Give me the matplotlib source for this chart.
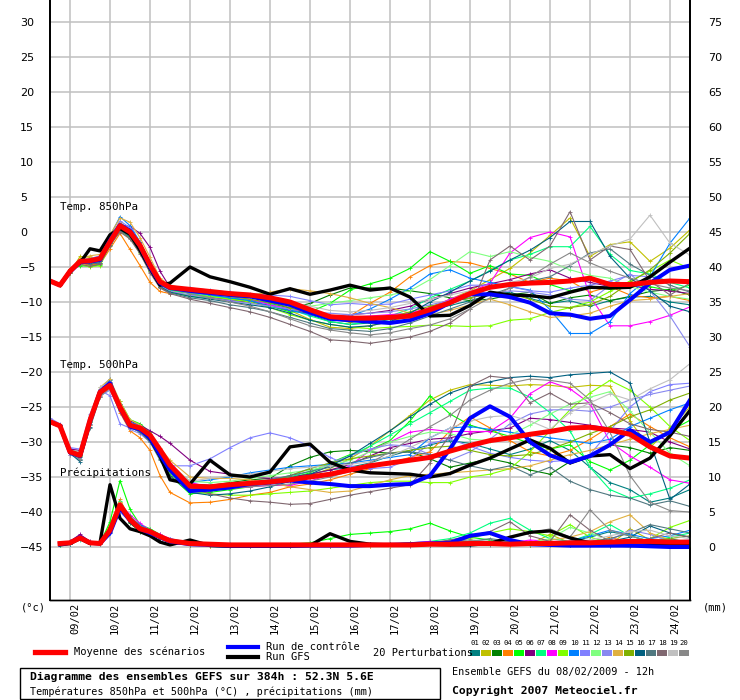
import numpy as np
import matplotlib
matplotlib.use("Agg")
import matplotlib.pyplot as plt
from matplotlib.transforms import ScaledTranslation
from matplotlib.patches import Rectangle
from matplotlib.lines import Line2D

# forecast hours (6h steps first three days, then 12h)
hours = [0, 6, 12, 18, 24, 30, 36, 42, 48, 54, 60, 66, 72,
         84, 96, 108, 120, 132, 144, 156, 168, 180, 192, 204, 216, 228,
         240, 252, 264, 276, 288, 300, 312, 324, 336, 348, 360, 372, 384]
hours_precip = hours[1:]

day_labels = ["09/02", "10/02", "11/02", "12/02", "13/02", "14/02", "15/02", "16/02",
              "17/02", "18/02", "19/02", "20/02", "21/02", "22/02", "23/02", "24/02"]
day_hours = [12, 36, 60, 84, 108, 132, 156, 180, 204, 228, 252, 276, 300, 324, 348, 372]

left_ticks = [-45, -40, -35, -30, -25, -20, -15, -10, -5, 0, 5, 10, 15, 20, 25, 30]
right_ticks = [0, 5, 10, 15, 20, 25, 30, 35, 40, 45, 50, 55, 60, 65, 70, 75]

pert_colors = ["#008080", "#c0c000", "#008000", "#ff8000", "#00ff00", "#800080", "#00ff80",
               "#ff00ff", "#80ff00", "#0080ff", "#8080ff", "#80ff80", "#8888f0", "#e0b040",
               "#80b000", "#006080", "#507880", "#806870", "#c0c0c0", "#888888"]

# ---- Temp 850 hPa ----
t850_mean = [-7.0, -7.6, -5.6, -4.2, -4.1, -3.8, -1.4, 0.9, 0.0, -1.9, -4.7, -7.1, -7.9,
             -8.2, -8.5, -8.8, -9.0, -9.4, -10.0, -11.1, -12.1, -12.3, -12.3, -12.2, -12.0, -11.1,
             -10.1, -8.8, -7.9, -7.5, -7.3, -7.2, -7.0, -6.6, -7.5, -7.5, -7.2, -7.0, -7.1]
t850_ctrl = [-7.0, -7.6, -5.7, -4.3, -4.2, -4.0, -1.2, 1.0, 0.2, -2.0, -5.0, -7.3, -8.0,
             -8.4, -8.7, -9.0, -9.2, -9.8, -10.4, -11.5, -12.4, -12.6, -12.8, -13.0, -12.6, -11.6,
             -10.1, -8.9, -8.9, -9.3, -10.1, -11.6, -11.8, -12.4, -12.0, -9.7, -7.3, -5.4, -4.8]
t850_gfs = [-7.0, -7.6, -5.5, -4.4, -2.4, -2.7, -0.4, 0.5, -0.3, -2.6, -5.2, -7.6, -7.3,
            -5.0, -6.4, -7.1, -7.9, -8.9, -8.1, -8.9, -8.3, -7.6, -8.3, -8.0, -9.3, -12.0,
            -11.9, -10.5, -8.6, -9.0, -9.1, -9.4, -8.6, -7.9, -8.0, -7.9, -6.4, -4.3, -2.3]
t850_p01 = [-7.0, -7.6, -5.4, -4.0, -4.3, -4.1, -1.0, 1.2, 0.3, -1.5, -4.5, -7.4, -8.2, -8.6, -9.0, -9.5, -9.8, -10.2, -10.9, -11.8, -12.8, -13.2, -13.0, -12.5, -12.2, -11.0, -10.5, -9.8, -9.0, -8.6, -9.5, -10.2, -9.8, -10.6, -9.8, -9.3, -9.2, -10.0, -10.4]
t850_p02 = [-7.0, -7.6, -5.8, -3.5, -3.6, -3.9, -0.8, 1.4, 0.2, -2.2, -5.0, -7.4, -8.4, -8.6, -9.0, -9.6, -10.0, -10.6, -11.2, -12.5, -13.6, -13.8, -13.4, -12.8, -12.0, -10.8, -9.6, -8.4, -6.8, -5.2, -3.0, -0.5, 2.0, -3.5, -1.8, -1.4, -4.2, -2.3, 0.3]
t850_p03 = [-7.0, -7.6, -5.5, -4.4, -4.6, -4.4, -1.8, 0.4, -0.4, -2.5, -5.2, -7.3, -8.0, -8.4, -8.6, -8.8, -9.3, -10.0, -10.9, -10.2, -9.0, -8.0, -8.0, -8.0, -8.4, -8.8, -9.4, -9.8, -9.6, -9.0, -8.6, -10.2, -9.4, -9.0, -9.8, -9.2, -8.5, -8.2, -9.0]
t850_p04 = [-7.0, -7.6, -5.9, -4.5, -4.7, -4.6, -2.4, -0.2, -2.5, -4.8, -7.2, -8.5, -8.8, -8.6, -8.8, -9.0, -9.2, -9.8, -10.6, -11.6, -12.5, -12.0, -10.2, -8.6, -6.4, -4.8, -4.2, -4.4, -5.2, -6.0, -7.2, -6.6, -7.0, -8.6, -7.8, -9.0, -9.4, -9.2, -9.8]
t850_p05 = [-7.0, -7.6, -5.3, -4.8, -4.9, -4.7, -1.6, 0.3, -0.8, -2.8, -5.6, -7.8, -8.6, -9.2, -9.4, -9.6, -10.0, -10.6, -11.4, -11.4, -10.2, -8.3, -7.4, -6.6, -5.2, -2.8, -4.2, -5.9, -4.8, -6.0, -6.2, -7.5, -8.4, -7.8, -8.2, -7.6, -7.8, -8.4, -7.6]
t850_p06 = [-7.0, -7.6, -5.6, -4.1, -4.0, -3.6, -1.0, 1.0, 0.8, -0.2, -2.2, -5.6, -7.9, -8.8, -9.3, -9.8, -10.0, -10.5, -11.2, -11.6, -12.0, -11.8, -11.6, -11.2, -10.6, -9.6, -8.8, -8.0, -7.4, -6.8, -6.0, -5.4, -6.6, -7.2, -7.8, -7.6, -8.2, -8.4, -8.8]
t850_p07 = [-7.0, -7.6, -5.7, -4.3, -4.4, -4.0, -1.5, 0.5, -0.6, -2.6, -5.4, -7.6, -8.3, -8.8, -9.2, -9.4, -9.7, -10.3, -11.0, -12.0, -12.8, -13.2, -12.8, -12.0, -11.0, -9.4, -8.2, -7.0, -5.5, -4.0, -3.2, -2.1, -2.1, 0.8, -3.2, -5.5, -6.0, -7.2, -8.0]
t850_p08 = [-7.0, -7.6, -5.5, -4.2, -4.3, -4.0, -1.2, 0.8, -0.1, -2.0, -4.8, -7.0, -7.8, -8.4, -8.8, -9.2, -9.6, -10.4, -11.0, -11.5, -12.0, -12.2, -12.0, -11.8, -11.6, -10.8, -9.6, -8.6, -7.3, -3.0, -0.8, 0.0, -0.7, -9.2, -13.4, -13.4, -12.8, -11.9, -10.7]
t850_p09 = [-7.0, -7.6, -5.8, -4.6, -5.0, -4.8, -1.9, 0.2, -0.9, -3.0, -5.6, -7.8, -8.7, -9.0, -9.2, -9.6, -10.0, -10.8, -11.8, -12.6, -13.2, -13.6, -13.8, -13.6, -13.5, -13.3, -13.4, -13.5, -13.4, -12.6, -12.4, -11.5, -10.8, -10.0, -8.5, -7.0, -5.6, -4.0, -5.2]
t850_p10 = [-7.0, -7.6, -5.6, -4.1, -4.0, -3.5, -0.6, 2.2, 0.9, -1.4, -4.3, -7.0, -7.9, -8.6, -9.0, -9.4, -9.8, -10.6, -11.2, -11.8, -12.3, -12.0, -11.0, -9.6, -8.0, -6.0, -5.4, -6.6, -7.2, -7.8, -8.3, -11.1, -14.5, -14.5, -12.8, -8.8, -6.4, -1.6, 2.0]
t850_p11 = [-7.0, -7.6, -5.4, -4.0, -3.8, -3.4, -0.8, 1.6, 0.6, -1.6, -4.4, -7.0, -7.8, -8.0, -8.3, -8.6, -8.8, -9.0, -9.2, -9.8, -10.4, -10.2, -10.4, -10.3, -9.6, -9.0, -8.4, -7.6, -7.6, -7.8, -8.4, -8.6, -8.0, -7.6, -7.0, -6.2, -6.4, -7.0, -7.4]
t850_p12 = [-7.0, -7.6, -5.5, -4.3, -4.5, -4.2, -1.3, 0.9, 0.0, -2.0, -4.9, -7.2, -8.1, -8.4, -8.7, -9.0, -9.3, -9.8, -10.2, -10.6, -10.2, -9.8, -9.4, -9.0, -8.4, -6.8, -4.8, -2.8, -3.5, -2.8, -3.6, -4.2, -5.4, -6.2, -6.6, -7.8, -8.6, -9.2, -9.6]
t850_p13 = [-7.0, -7.6, -5.6, -4.4, -4.2, -3.9, -1.6, 0.6, -0.4, -2.4, -5.2, -7.6, -8.5, -9.0, -9.4, -9.8, -10.2, -10.6, -11.0, -11.4, -11.6, -11.8, -11.6, -11.4, -11.0, -10.4, -9.8, -9.4, -8.8, -8.4, -8.6, -9.0, -9.6, -9.8, -7.6, -6.0, -8.4, -12.0, -16.4]
t850_p14 = [-7.0, -7.6, -5.7, -3.8, -3.4, -3.2, -0.4, 2.0, 1.4, -0.8, -3.6, -6.6, -7.6, -8.2, -8.5, -8.8, -9.0, -8.6, -8.1, -8.4, -8.8, -9.4, -10.2, -10.8, -11.6, -11.8, -11.2, -10.4, -9.6, -10.4, -11.4, -12.2, -12.0, -11.6, -10.6, -9.8, -9.6, -9.2, -8.8]
t850_p15 = [-7.0, -7.6, -5.6, -4.0, -4.1, -3.9, -1.4, 0.6, -0.3, -2.2, -5.0, -7.4, -8.2, -8.5, -8.8, -9.2, -9.6, -10.1, -10.8, -11.6, -12.4, -12.9, -12.6, -12.2, -11.4, -10.6, -10.0, -9.4, -8.8, -8.8, -9.6, -10.6, -10.8, -10.4, -9.2, -7.2, -5.4, -3.0, -0.2]
t850_p16 = [-7.0, -7.6, -5.6, -4.3, -4.4, -4.2, -1.6, 0.3, -0.6, -2.6, -5.4, -7.8, -8.6, -9.2, -9.6, -10.0, -10.4, -10.8, -11.6, -12.6, -13.2, -13.6, -13.4, -12.8, -11.6, -10.0, -8.6, -7.0, -5.6, -4.0, -2.6, -0.8, 1.5, 1.5, -3.5, -6.6, -8.4, -10.6, -11.4]
t850_p17 = [-7.0, -7.6, -5.7, -4.4, -4.6, -4.4, -2.0, 0.2, -0.8, -2.9, -5.7, -7.9, -8.7, -9.4, -9.8, -10.4, -10.8, -11.4, -12.2, -13.0, -13.8, -14.0, -14.2, -13.8, -13.0, -12.0, -11.0, -10.0, -9.0, -8.0, -7.0, -6.4, -4.8, -3.0, -2.4, -4.6, -6.2, -7.6, -8.6]
t850_p18 = [-7.0, -7.6, -5.8, -4.6, -4.9, -4.6, -1.8, 0.0, -1.0, -3.1, -5.8, -8.0, -8.8, -9.6, -10.2, -10.8, -11.4, -12.2, -13.2, -14.2, -15.4, -15.6, -15.9, -15.5, -15.0, -14.2, -13.0, -11.0, -4.0, -2.0, -4.0, -2.0, 2.9, -4.0, -2.0, -2.5, -7.0, -9.0, -7.3]
t850_p19 = [-7.0, -7.6, -5.4, -4.1, -4.0, -3.6, -1.1, 1.2, 0.4, -1.6, -4.4, -7.0, -8.0, -8.3, -8.5, -8.8, -9.2, -9.6, -10.0, -10.6, -11.2, -11.4, -11.2, -10.8, -10.2, -9.6, -9.0, -8.4, -7.8, -7.2, -6.6, -5.2, -4.6, -3.2, -2.0, -1.0, 2.4, -1.6, -3.3]
t850_p20 = [-7.0, -7.6, -5.6, -4.2, -4.2, -4.0, -1.4, 1.0, 0.2, -1.8, -4.6, -7.2, -8.1, -8.8, -9.4, -10.0, -10.6, -11.4, -12.4, -13.4, -14.0, -14.4, -14.7, -14.4, -13.8, -13.3, -12.4, -11.0, -9.4, -8.0, -6.4, -4.6, -3.0, -4.4, -5.6, -6.6, -7.4, -8.0, -8.4]
t850_members = [t850_p01, t850_p02, t850_p03, t850_p04, t850_p05, t850_p06, t850_p07, t850_p08, t850_p09, t850_p10,
                t850_p11, t850_p12, t850_p13, t850_p14, t850_p15, t850_p16, t850_p17, t850_p18, t850_p19, t850_p20]

# ---- Temp 500 hPa ----
t500_mean = [-27.1, -27.7, -31.4, -31.9, -26.9, -22.9, -21.9, -25.0, -27.6, -28.0, -29.0, -31.1, -33.3,
             -36.3, -36.4, -36.1, -35.9, -35.7, -35.4, -35.0, -34.6, -34.0, -33.4, -33.0, -32.6, -32.2,
             -31.3, -30.5, -29.8, -29.4, -28.9, -28.5, -28.0, -27.9, -28.3, -28.9, -30.7, -32.0, -32.3]
t500_ctrl = [-27.1, -27.7, -31.5, -32.0, -27.0, -22.8, -21.6, -25.2, -27.8, -28.2, -29.4, -31.8, -34.0,
             -37.0, -36.8, -36.5, -36.0, -35.8, -35.5, -35.8, -36.0, -36.3, -36.3, -36.1, -36.0, -34.8,
             -31.0, -26.6, -24.9, -26.4, -30.0, -31.9, -32.9, -32.0, -30.4, -28.3, -30.0, -28.6, -24.0]
t500_gfs = [-27.1, -27.7, -31.5, -32.0, -27.0, -23.0, -21.9, -25.0, -27.6, -28.0, -29.5, -32.0, -35.4,
            -36.0, -32.6, -34.7, -35.0, -34.3, -30.7, -30.3, -32.9, -34.0, -34.4, -34.5, -34.6, -35.0,
            -34.5, -33.3, -32.3, -31.0, -29.7, -30.9, -33.0, -32.0, -31.8, -33.8, -32.3, -29.1, -25.5]
t500_p01 = [-27.0, -27.8, -31.0, -32.6, -27.4, -22.6, -21.2, -24.6, -27.4, -28.2, -29.6, -31.8, -34.2, -36.8, -37.0, -36.4, -35.8, -35.4, -35.0, -34.6, -34.0, -33.6, -33.0, -32.0, -31.2, -30.4, -29.8, -30.2, -31.0, -31.8, -31.0, -29.8, -31.2, -33.6, -35.8, -36.8, -38.6, -38.0, -36.8]
t500_p02 = [-27.2, -27.6, -31.6, -31.8, -26.8, -23.2, -22.0, -25.2, -27.8, -28.0, -29.2, -31.4, -33.8, -36.6, -36.8, -36.6, -36.2, -35.8, -35.4, -34.8, -33.8, -32.4, -30.6, -28.4, -26.2, -24.0, -22.6, -21.8, -21.9, -22.0, -21.8, -21.9, -22.2, -21.9, -22.0, -27.0, -30.8, -28.0, -25.0]
t500_p03 = [-27.1, -27.6, -31.2, -31.6, -26.4, -22.6, -21.8, -25.4, -27.8, -28.6, -29.4, -31.6, -33.8, -36.0, -36.2, -35.8, -35.4, -35.2, -33.4, -32.2, -31.4, -31.2, -31.4, -31.6, -31.4, -32.4, -33.6, -33.0, -32.4, -33.0, -34.0, -34.6, -32.8, -31.8, -30.4, -30.8, -31.6, -30.8, -31.2]
t500_p04 = [-27.0, -27.8, -31.8, -32.2, -27.6, -23.4, -22.4, -25.8, -28.4, -29.4, -31.2, -34.8, -37.2, -38.7, -38.6, -38.2, -37.6, -37.2, -36.4, -36.0, -35.4, -34.6, -33.8, -33.0, -32.2, -31.4, -28.4, -26.4, -28.0, -29.8, -31.4, -32.0, -31.2, -29.6, -27.8, -26.0, -27.8, -29.4, -30.7]
t500_p05 = [-27.2, -27.6, -31.2, -31.4, -26.6, -22.6, -21.8, -24.2, -26.8, -27.4, -28.6, -31.8, -34.8, -37.4, -37.2, -36.8, -36.4, -35.8, -35.2, -34.4, -33.0, -31.8, -31.1, -29.8, -27.0, -23.4, -26.0, -27.6, -28.4, -29.2, -30.2, -31.0, -30.4, -32.8, -34.0, -32.6, -30.4, -28.4, -26.9]
t500_p06 = [-27.1, -27.7, -31.0, -31.2, -26.4, -22.8, -22.2, -24.8, -27.0, -27.6, -28.4, -29.2, -30.2, -32.6, -34.2, -34.6, -35.0, -35.2, -35.0, -34.6, -34.0, -33.2, -32.0, -30.8, -30.2, -29.6, -29.4, -28.8, -28.4, -28.0, -26.6, -26.8, -27.2, -27.6, -28.0, -28.2, -28.6, -30.0, -31.0]
t500_p07 = [-27.0, -27.8, -31.4, -32.0, -27.0, -22.8, -21.6, -25.0, -27.6, -28.2, -29.6, -32.2, -34.4, -36.8, -36.8, -36.4, -36.0, -35.6, -35.0, -34.2, -33.2, -32.0, -30.6, -29.0, -27.4, -25.8, -24.2, -22.6, -22.3, -22.3, -23.6, -25.8, -28.4, -33.6, -36.8, -38.0, -37.4, -36.6, -35.4]
t500_p08 = [-27.1, -27.6, -31.6, -31.6, -26.6, -22.6, -21.4, -24.6, -27.4, -27.8, -29.0, -31.0, -33.0, -35.8, -36.4, -36.6, -36.4, -36.2, -36.2, -35.6, -34.6, -33.4, -31.2, -30.0, -28.6, -28.2, -28.5, -28.5, -28.5, -26.6, -23.1, -21.4, -22.4, -24.5, -30.0, -32.0, -33.6, -35.4, -35.9]
t500_p09 = [-27.2, -27.8, -31.2, -31.8, -26.8, -23.0, -22.0, -25.4, -28.0, -28.4, -29.6, -32.0, -34.6, -37.0, -37.4, -37.6, -37.6, -37.4, -37.2, -37.0, -36.6, -36.2, -35.8, -35.6, -35.6, -35.8, -35.8, -35.0, -34.6, -33.8, -31.4, -28.4, -25.4, -23.0, -21.2, -22.6, -25.0, -27.8, -29.8]
t500_p10 = [-27.1, -27.7, -31.4, -32.2, -27.2, -22.4, -21.0, -24.6, -27.2, -27.6, -29.2, -31.6, -33.6, -35.8, -35.4, -35.0, -34.4, -34.0, -33.6, -33.4, -33.2, -33.0, -32.6, -32.2, -31.8, -29.4, -28.0, -27.8, -28.2, -28.6, -29.0, -29.4, -29.8, -30.2, -29.6, -27.8, -26.6, -25.4, -24.4]
t500_p11 = [-26.6, -27.4, -30.8, -31.0, -26.0, -22.6, -23.4, -27.4, -28.0, -28.4, -29.4, -31.4, -33.4, -33.4, -32.4, -30.8, -29.4, -28.7, -29.4, -30.6, -32.2, -33.4, -33.8, -33.6, -32.4, -30.2, -29.6, -30.6, -31.6, -32.2, -32.6, -32.8, -32.6, -31.8, -28.4, -25.0, -22.8, -21.8, -21.6]
t500_p12 = [-27.1, -27.7, -31.4, -31.8, -26.8, -22.8, -21.6, -24.8, -27.4, -27.8, -28.8, -31.0, -33.2, -35.6, -35.8, -35.6, -35.2, -34.8, -34.4, -34.0, -33.4, -32.6, -31.4, -30.0, -29.2, -28.6, -28.8, -29.6, -29.8, -29.0, -27.6, -26.0, -24.6, -23.6, -22.8, -25.6, -28.6, -31.6, -33.4]
t500_p13 = [-27.3, -27.9, -31.8, -32.4, -27.4, -23.4, -22.6, -25.6, -28.2, -28.8, -30.0, -32.2, -34.0, -36.2, -36.2, -36.0, -35.8, -35.4, -34.8, -33.8, -33.0, -32.0, -31.0, -30.4, -30.6, -31.8, -32.6, -31.4, -29.6, -27.4, -26.0, -25.4, -25.4, -25.6, -25.0, -24.0, -23.2, -22.6, -22.0]
t500_p14 = [-27.1, -27.7, -31.2, -31.6, -26.4, -22.2, -21.0, -24.2, -26.8, -27.6, -28.8, -30.8, -32.6, -35.0, -35.2, -35.2, -35.4, -35.8, -36.4, -36.8, -37.2, -37.0, -36.2, -35.4, -34.8, -34.6, -34.4, -34.2, -34.0, -33.8, -33.4, -32.6, -31.8, -31.2, -30.4, -29.6, -28.8, -28.2, -27.6]
t500_p15 = [-27.1, -27.8, -31.6, -32.0, -27.2, -23.0, -21.8, -24.8, -27.4, -28.2, -29.6, -32.0, -34.2, -36.6, -36.8, -36.6, -36.2, -35.6, -34.8, -33.8, -33.0, -32.4, -32.0, -31.6, -31.2, -30.8, -30.6, -31.2, -31.8, -32.0, -31.8, -31.0, -30.0, -28.8, -27.8, -26.4, -25.4, -24.0, -23.0]
t500_p16 = [-27.0, -27.6, -31.6, -32.8, -27.8, -23.2, -21.4, -25.0, -27.6, -28.4, -29.8, -32.4, -34.8, -37.2, -37.6, -37.4, -37.0, -36.4, -35.6, -34.6, -33.4, -32.0, -30.2, -28.4, -26.4, -24.6, -23.0, -22.0, -21.4, -20.8, -20.6, -20.8, -20.4, -20.2, -20.0, -21.6, -30.0, -38.2, -36.0]
t500_p17 = [-27.2, -27.8, -31.2, -32.6, -28.0, -23.6, -21.6, -25.2, -27.8, -28.6, -30.0, -32.6, -35.0, -37.0, -37.0, -36.6, -36.0, -35.4, -34.8, -34.2, -33.6, -33.0, -32.2, -31.6, -31.4, -31.8, -32.6, -33.4, -34.0, -33.4, -34.7, -33.6, -35.6, -36.8, -37.6, -38.0, -39.0, -38.4, -39.2]
t500_p18 = [-27.1, -27.7, -31.4, -31.8, -26.8, -22.8, -21.8, -25.2, -27.8, -28.2, -29.4, -31.6, -33.8, -36.6, -37.4, -38.0, -38.4, -38.6, -38.9, -38.8, -38.2, -37.6, -37.1, -36.6, -36.1, -33.0, -29.0, -22.0, -20.6, -20.9, -24.4, -23.0, -24.6, -24.4, -25.8, -27.4, -28.2, -28.6, -29.2]
t500_p19 = [-27.1, -27.7, -31.2, -31.4, -26.2, -22.2, -21.4, -24.8, -27.6, -28.0, -29.2, -31.4, -33.4, -35.6, -35.2, -34.8, -34.6, -34.2, -33.8, -33.6, -33.4, -33.2, -32.8, -32.0, -30.8, -29.4, -28.0, -27.0, -26.4, -26.2, -27.0, -28.2, -25.8, -24.4, -23.1, -24.0, -22.4, -21.1, -18.8]
t500_p20 = [-27.1, -27.7, -31.6, -32.4, -27.6, -23.6, -22.2, -25.0, -27.4, -28.0, -29.4, -31.8, -34.0, -36.4, -36.6, -36.6, -36.4, -36.2, -36.0, -35.6, -35.0, -34.2, -33.0, -31.4, -29.6, -27.8, -26.2, -24.0, -22.6, -21.6, -21.0, -21.2, -21.6, -24.0, -28.6, -34.8, -38.6, -39.8, -40.0]
t500_members = [t500_p01, t500_p02, t500_p03, t500_p04, t500_p05, t500_p06, t500_p07, t500_p08, t500_p09, t500_p10,
                t500_p11, t500_p12, t500_p13, t500_p14, t500_p15, t500_p16, t500_p17, t500_p18, t500_p19, t500_p20]

# ---- Precipitations (mm, right axis), from +6h ----
rr_mean = [0.5, 0.6, 1.3, 0.6, 0.5, 2.4, 6.0, 3.9, 2.6, 2.2, 1.5, 0.9,
           0.5, 0.4, 0.3, 0.3, 0.3, 0.3, 0.3, 0.3, 0.3, 0.3, 0.3, 0.3, 0.4,
           0.4, 0.5, 0.5, 0.4, 0.5, 0.5, 0.6, 0.6, 0.7, 0.8, 0.8, 0.7, 0.7]
rr_ctrl = [0.4, 0.6, 1.4, 0.6, 0.5, 2.0, 5.6, 3.8, 2.6, 2.0, 1.4, 0.8,
           0.4, 0.3, 0.2, 0.2, 0.2, 0.2, 0.2, 0.2, 0.2, 0.3, 0.3, 0.4, 0.5,
           0.6, 1.6, 2.0, 1.0, 0.4, 0.3, 0.2, 0.2, 0.2, 0.2, 0.1, 0.0, 0.0]
rr_gfs = [0.3, 0.5, 1.2, 0.5, 0.6, 8.9, 4.1, 2.6, 2.2, 1.6, 0.7, 0.3,
          1.0, 0.2, 0.1, 0.1, 0.1, 0.1, 0.2, 1.9, 0.8, 0.4, 0.3, 0.3, 0.4,
          0.3, 0.3, 0.5, 1.4, 2.1, 2.3, 1.3, 0.6, 0.3, 0.2, 0.3, 0.2, 0.2]
rr_p01 = [0.4, 0.5, 1.2, 0.5, 0.4, 2.8, 5.2, 3.6, 2.4, 2.0, 1.2, 0.7, 0.4, 0.3, 0.2, 0.2, 0.2, 0.2, 0.3, 0.3, 0.4, 0.3, 0.2, 0.3, 0.5, 0.4, 0.3, 0.6, 0.8, 0.4, 0.3, 0.8, 1.4, 2.2, 1.6, 0.8, 1.2, 0.6]
rr_p02 = [0.5, 0.7, 1.6, 0.6, 0.4, 2.0, 6.4, 4.4, 2.8, 2.4, 1.6, 0.8, 0.3, 0.2, 0.2, 0.2, 0.1, 0.2, 0.2, 0.3, 0.3, 0.2, 0.2, 0.3, 0.4, 1.0, 0.6, 0.4, 0.3, 0.4, 1.8, 0.6, 0.4, 0.3, 2.6, 1.0, 0.5, 0.4]
rr_p03 = [0.3, 0.5, 1.1, 0.5, 0.4, 2.6, 5.8, 3.4, 2.2, 2.0, 1.4, 0.8, 0.4, 0.4, 0.3, 0.3, 0.2, 0.2, 0.2, 0.2, 0.3, 0.4, 0.5, 0.4, 0.3, 0.6, 0.8, 0.5, 0.4, 0.3, 0.4, 0.5, 0.3, 0.2, 0.2, 0.4, 0.6, 0.5]
rr_p04 = [0.4, 0.6, 1.4, 0.7, 0.5, 3.2, 6.8, 4.0, 2.6, 2.0, 1.2, 0.6, 0.3, 0.2, 0.1, 0.1, 0.1, 0.1, 0.2, 0.2, 0.3, 0.2, 0.2, 0.3, 0.6, 0.8, 0.4, 0.3, 0.3, 0.5, 0.4, 0.3, 0.5, 1.4, 0.6, 0.3, 0.2, 0.3]
rr_p05 = [0.4, 0.6, 1.2, 0.6, 0.5, 3.6, 9.5, 5.4, 3.2, 2.6, 1.8, 1.0, 0.6, 0.4, 0.3, 0.3, 0.3, 0.4, 0.6, 1.2, 1.8, 2.0, 2.2, 2.6, 3.4, 2.3, 1.4, 1.0, 0.6, 0.6, 0.4, 0.3, 0.4, 0.6, 0.8, 0.5, 0.4, 0.3]
rr_p06 = [0.5, 0.8, 1.8, 0.8, 0.6, 2.2, 5.4, 4.2, 3.0, 2.4, 1.6, 1.0, 0.5, 0.4, 0.3, 0.3, 0.3, 0.2, 0.2, 0.2, 0.2, 0.3, 0.3, 0.2, 0.3, 0.4, 0.5, 0.6, 0.4, 0.5, 0.6, 0.8, 0.6, 0.4, 0.6, 0.9, 0.7, 0.5]
rr_p07 = [0.3, 0.5, 1.0, 0.5, 0.4, 2.4, 6.6, 4.0, 2.8, 2.2, 1.4, 0.8, 0.4, 0.3, 0.2, 0.2, 0.2, 0.2, 0.3, 0.3, 0.3, 0.3, 0.4, 0.6, 0.8, 1.2, 2.0, 3.4, 4.1, 2.4, 1.2, 0.8, 1.8, 3.2, 1.6, 0.8, 1.4, 2.0]
rr_p08 = [0.4, 0.6, 1.4, 0.6, 0.5, 2.6, 6.2, 4.6, 3.4, 2.4, 1.8, 1.2, 0.4, 0.3, 0.2, 0.2, 0.2, 0.3, 0.2, 0.2, 0.3, 0.4, 0.3, 0.6, 0.8, 0.5, 0.3, 0.4, 0.6, 1.0, 0.8, 0.8, 0.6, 0.4, 0.3, 0.6, 0.8, 0.6]
rr_p09 = [0.4, 0.6, 1.2, 0.6, 0.5, 2.2, 5.6, 3.8, 2.6, 2.2, 1.6, 0.8, 0.3, 0.3, 0.2, 0.2, 0.2, 0.2, 0.2, 0.2, 0.3, 0.3, 0.4, 0.6, 0.5, 0.8, 1.2, 2.0, 2.6, 2.2, 1.6, 3.2, 1.4, 0.6, 0.4, 1.2, 2.8, 3.8]
rr_p10 = [0.4, 0.6, 1.3, 0.6, 0.5, 2.0, 6.2, 4.2, 3.2, 2.4, 1.6, 1.2, 0.6, 0.5, 0.4, 0.3, 0.2, 0.2, 0.2, 0.2, 0.2, 0.3, 0.4, 0.5, 0.4, 0.4, 0.6, 0.8, 0.6, 0.5, 0.4, 0.8, 1.6, 2.4, 1.8, 1.2, 1.6, 2.4]
rr_p11 = [0.4, 0.5, 1.2, 0.5, 0.4, 2.0, 5.0, 3.6, 2.4, 2.0, 1.4, 0.8, 0.4, 0.3, 0.2, 0.2, 0.2, 0.2, 0.2, 0.2, 0.2, 0.3, 0.4, 0.3, 0.4, 0.5, 0.4, 0.6, 0.8, 0.5, 0.4, 0.5, 0.4, 0.3, 0.4, 0.6, 0.8, 1.0]
rr_p12 = [0.4, 0.6, 1.3, 0.6, 0.5, 2.6, 6.0, 4.0, 2.6, 2.2, 1.6, 1.0, 0.5, 0.4, 0.3, 0.3, 0.3, 0.3, 0.2, 0.2, 0.3, 0.3, 0.3, 0.4, 0.6, 0.8, 0.6, 0.5, 0.4, 0.6, 1.2, 2.8, 2.0, 1.0, 0.6, 0.4, 0.4, 0.5]
rr_p13 = [0.4, 0.6, 1.4, 0.6, 0.5, 2.4, 5.2, 3.8, 2.6, 2.2, 1.4, 0.8, 0.4, 0.3, 0.2, 0.2, 0.2, 0.2, 0.2, 0.3, 0.3, 0.4, 0.3, 0.3, 0.5, 0.6, 0.4, 0.3, 0.4, 0.5, 0.6, 0.4, 0.3, 1.0, 2.4, 1.8, 0.8, 0.6]
rr_p14 = [0.5, 0.7, 1.5, 0.7, 0.5, 2.2, 6.4, 4.4, 3.0, 2.4, 1.6, 0.8, 0.3, 0.2, 0.2, 0.2, 0.2, 0.2, 0.2, 0.2, 0.3, 0.3, 0.3, 0.4, 0.4, 0.5, 0.5, 0.4, 0.3, 0.6, 1.0, 1.4, 2.2, 3.6, 4.6, 2.0, 1.0, 0.8]
rr_p15 = [0.4, 0.6, 1.3, 0.6, 0.5, 2.4, 5.8, 3.6, 2.4, 2.0, 1.4, 0.8, 0.4, 0.3, 0.2, 0.2, 0.2, 0.2, 0.2, 0.2, 0.2, 0.3, 0.3, 0.3, 0.4, 0.4, 0.6, 0.8, 0.4, 0.3, 0.4, 0.6, 0.8, 0.6, 0.5, 0.8, 1.2, 1.6]
rr_p16 = [0.4, 0.5, 1.2, 0.5, 0.4, 2.8, 5.8, 3.6, 2.6, 2.0, 1.2, 0.6, 0.3, 0.3, 0.2, 0.2, 0.2, 0.2, 0.2, 0.3, 0.3, 0.3, 0.4, 0.5, 0.6, 0.4, 0.3, 0.5, 0.8, 0.6, 0.4, 0.3, 0.4, 0.8, 1.4, 3.0, 2.0, 1.4]
rr_p17 = [0.4, 0.6, 1.4, 0.6, 0.5, 2.6, 6.2, 4.4, 3.0, 2.4, 1.6, 1.0, 0.5, 0.4, 0.3, 0.3, 0.2, 0.2, 0.3, 0.3, 0.4, 0.4, 0.3, 0.4, 0.5, 0.6, 0.8, 1.2, 0.8, 0.6, 0.5, 0.6, 0.8, 1.2, 2.0, 3.2, 2.6, 2.0]
rr_p18 = [0.4, 0.6, 1.3, 0.6, 0.5, 2.4, 6.0, 4.0, 2.8, 2.2, 1.6, 0.8, 0.4, 0.3, 0.2, 0.2, 0.2, 0.2, 0.2, 0.2, 0.3, 0.3, 0.4, 0.4, 0.6, 1.0, 1.6, 2.2, 3.6, 1.6, 0.8, 4.6, 2.4, 0.8, 0.6, 1.2, 2.0, 1.4]
rr_p19 = [0.4, 0.6, 1.2, 0.6, 0.5, 2.2, 5.6, 3.8, 2.8, 2.2, 1.5, 0.9, 0.4, 0.3, 0.2, 0.2, 0.2, 0.2, 0.2, 0.2, 0.2, 0.3, 0.3, 0.4, 0.4, 0.5, 0.6, 0.8, 0.6, 0.5, 0.6, 0.8, 1.0, 1.6, 2.2, 2.4, 1.6, 1.2]
rr_p20 = [0.4, 0.6, 1.3, 0.6, 0.5, 2.6, 6.2, 4.2, 2.8, 2.2, 1.6, 1.0, 0.4, 0.3, 0.3, 0.3, 0.3, 0.3, 0.2, 0.2, 0.3, 0.3, 0.4, 0.5, 0.6, 0.8, 1.0, 0.8, 1.4, 2.0, 2.6, 1.4, 5.3, 2.4, 1.6, 0.8, 1.0, 0.6]
rr_members = [rr_p01, rr_p02, rr_p03, rr_p04, rr_p05, rr_p06, rr_p07, rr_p08, rr_p09, rr_p10,
              rr_p11, rr_p12, rr_p13, rr_p14, rr_p15, rr_p16, rr_p17, rr_p18, rr_p19, rr_p20]

W, H = 740, 700
MONO = "DejaVu Sans Mono"


def fx(x):
    return x / W


def fy(y):
    return 1 - y / H


fig = plt.figure(figsize=(7.4, 7.0), dpi=100)
ax = fig.add_axes([fx(50), fy(600), (690 - 50) / W, 600 / H])
ax2 = ax.twinx()

ylo, yhi = -52.57, 33.14
ax.set_xlim(0, 384)
ax.set_ylim(ylo, yhi)
ax2.set_ylim(ylo + 45, yhi + 45)

# grid
ax.set_yticks(left_ticks)
ax.set_xticks(day_hours)
ax.grid(True, color="#c0c0c0", linewidth=1.1)
ax.set_axisbelow(True)
ax2.set_yticks(right_ticks)

for a in (ax, ax2):
    a.spines["top"].set_visible(False)
    a.spines["left"].set_linewidth(1.3)
    a.spines["right"].set_linewidth(1.3)
    a.spines["bottom"].set_linewidth(1.0)

ax.tick_params(axis="y", length=0, pad=21.5, labelsize=8)
for lab in ax.get_yticklabels():
    lab.set_horizontalalignment("left")
ax2.tick_params(axis="y", length=0, pad=13, labelsize=8)

ax.set_xticklabels(day_labels, rotation=90, fontsize=7.5, family=MONO, va="top")
ax.tick_params(axis="x", length=0, pad=2)
shift = ScaledTranslation(5 / 100, 0, fig.dpi_scale_trans)
for lab in ax.get_xticklabels():
    lab.set_transform(lab.get_transform() + shift)

# perturbations
for c, t850, t500, rr in zip(pert_colors, t850_members, t500_members, rr_members):
    kw = dict(color=c, linewidth=0.8, marker="+", markersize=3, markeredgewidth=0.6)
    ax.plot(hours, t850, **kw)
    ax.plot(hours, t500, **kw)
    ax2.plot(hours_precip, rr, **kw)

# GFS, control, mean
ax.plot(hours, t850_gfs, color="black", linewidth=2.4)
ax.plot(hours, t500_gfs, color="black", linewidth=2.4)
ax2.plot(hours_precip, rr_gfs, color="black", linewidth=2.4)
ax.plot(hours, t850_ctrl, color="#0000ff", linewidth=2.9)
ax.plot(hours, t500_ctrl, color="#0000ff", linewidth=2.9)
ax2.plot(hours_precip, rr_ctrl, color="#0000ff", linewidth=2.9)
ax.plot(hours, t850_mean, color="#ff0000", linewidth=3.6)
ax.plot(hours, t500_mean, color="#ff0000", linewidth=3.6)
ax2.plot(hours_precip, rr_mean, color="#ff0000", linewidth=3.6)

# labels inside the plot
for txt, ypix in [("Temp. 850hPa", 207), ("Temp. 500hPa", 365), ("Précipitations", 473)]:
    ax.text((60 - 50) / 640, (600 - ypix) / 600, txt, transform=ax.transAxes,
            fontsize=7.8, family=MONO, va="center", ha="left")

fig.text(fx(21), fy(607), "(°c)", fontsize=7.5, family=MONO, va="center", ha="left")
fig.text(fx(703), fy(607), "(mm)", fontsize=7.5, family=MONO, va="center", ha="left")

# legend
fig.add_artist(Line2D([fx(35), fx(65)], [fy(652), fy(652)], color="#ff0000", linewidth=3.8))
fig.text(fx(74), fy(652), "Moyenne des scénarios", fontsize=7.5, family=MONO, va="center")
fig.add_artist(Line2D([fx(228), fx(258)], [fy(647), fy(647)], color="#0000ff", linewidth=3.0))
fig.add_artist(Line2D([fx(228), fx(258)], [fy(657), fy(657)], color="black", linewidth=3.0))
fig.text(fx(266), fy(647), "Run de contrôle", fontsize=7.5, family=MONO, va="center")
fig.text(fx(266), fy(657), "Run GFS", fontsize=7.5, family=MONO, va="center")
fig.text(fx(373), fy(653), "20 Perturbations", fontsize=7.5, family=MONO, va="center")
for i, c in enumerate(pert_colors):
    x0 = 470 + 11 * i
    fig.add_artist(Rectangle((fx(x0), fy(656)), 10 / W, 6 / H, facecolor=c,
                             edgecolor="none", transform=fig.transFigure))
    fig.text(fx(x0 + 5), fy(643), "%02d" % (i + 1), fontsize=5.2, family=MONO,
             va="center", ha="center")

# footer
fig.add_artist(Rectangle((fx(20), fy(699)), 420 / W, 31 / H, facecolor="none",
                         edgecolor="black", linewidth=1.0, transform=fig.transFigure))
fig.text(fx(30), fy(677), "Diagramme des ensembles GEFS sur 384h : 52.3N 5.6E",
         fontsize=8.2, family=MONO, weight="bold", va="center")
fig.text(fx(30), fy(692), "Températures 850hPa et 500hPa (°C) , précipitations (mm)",
         fontsize=7.3, family=MONO, va="center")
fig.text(fx(452), fy(672), "Ensemble GEFS du 08/02/2009 - 12h", fontsize=7.3, family=MONO, va="center")
fig.text(fx(452), fy(691), "Copyright 2007 Meteociel.fr", fontsize=8.2, family=MONO,
         weight="bold", va="center")

fig.savefig("out.png", dpi=100)
